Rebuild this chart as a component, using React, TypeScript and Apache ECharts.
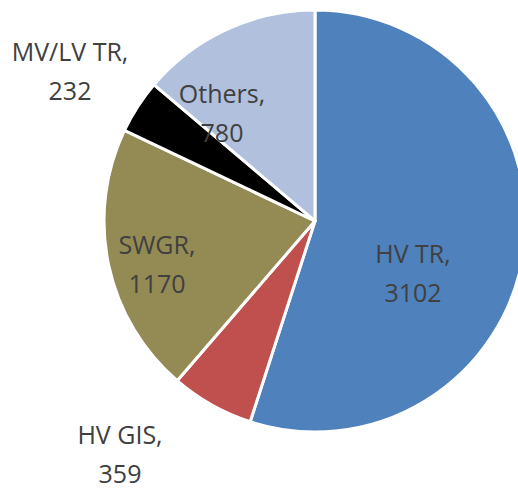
import React, { useEffect, useRef } from "react";
import * as echarts from "echarts";

const categories = ["HV TR", "HV GIS", "SWGR", "MV/LV TR", "Others"];
const values = [3102, 359, 1170, 232, 780];
const colors = ["#4F81BD", "#C0504D", "#948A54", "#000000", "#B0C0DD"];
// label anchor positions (px) for each slice's label
const labelPos: [number, number][] = [
  [413, 272],
  [120, 453],
  [157, 263],
  [70, 70],
  [222, 112],
];

export default function App() {
  const ref = useRef<HTMLDivElement>(null);
  useEffect(() => {
    if (!ref.current) return;
    const chart = echarts.init(ref.current, undefined, { renderer: "svg" });
    chart.setOption({
      animation: false,
      series: [
        {
          type: "pie",
          center: [315, 221],
          radius: 211,
          startAngle: 90,
          clockwise: true,
          avoidLabelOverlap: false,
          itemStyle: { borderColor: "#FFFFFF", borderWidth: 3 },
          label: {
            show: true,
            position: "inside",
            formatter: "{b},\n{c}",
            color: "#404040",
            fontSize: 25,
            lineHeight: 39,
            fontFamily: "Open Sans",
            align: "center",
          },
          labelLine: { show: false },
          labelLayout: (p: any) => ({
            x: labelPos[p.dataIndex][0],
            y: labelPos[p.dataIndex][1],
            align: "center",
            verticalAlign: "middle",
          }),
          data: categories.map((c, i) => ({
            name: c,
            value: values[i],
            itemStyle: { color: colors[i] },
          })),
        },
      ],
    });
    return () => chart.dispose();
  }, []);
  return (
    <div
      ref={ref}
      style={{ position: "fixed", left: 0, top: 0, width: 518, height: 488, background: "#fff" }}
    />
  );
}
